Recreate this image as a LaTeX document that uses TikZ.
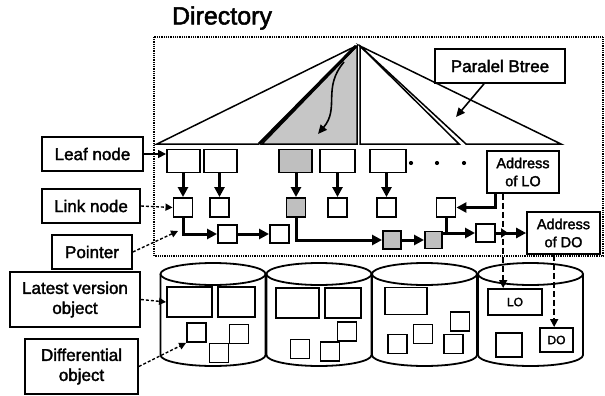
\documentclass[tikz,border=0pt]{standalone}
\usepackage{fontspec}
\setmainfont{Liberation Sans}[BoldFont=Liberation Sans, BoldFeatures={FakeBold=2}]
\usetikzlibrary{arrows.meta,calc}
\begin{document}
\begin{tikzpicture}[x=1pt,y=-1pt,
  lbl/.style={draw, line width=1.7pt, fill=white, inner sep=0pt, align=center, font=\fontsize{17}{20}\selectfont\bfseries},
  addr/.style={draw, line width=1.7pt, fill=white, inner sep=0pt, align=center, font=\fontsize{14.5}{18}\selectfont\bfseries},
  cell/.style={draw, line width=1.9pt, fill=white, inner sep=0pt},
  shd/.style={fill=gray!50},
  tarrow/.style={line width=3pt, -{Triangle[length=10pt,width=10pt]}},
  larrow/.style={line width=1.4pt, densely dashed, -{Triangle[length=7pt,width=7pt]}},
  darrow/.style={line width=1.6pt, dash pattern=on 6pt off 3pt, -{Triangle[length=8pt,width=8pt]}},
  treeline/.style={line width=1.5pt},
  cyl/.style={line width=1.8pt, fill=white},
  dotnode/.style={circle, fill, inner sep=0pt, minimum size=4.2pt}
]
\useasboundingbox (0,0) rectangle (605,396);

% title and frame
\node[font=\fontsize{25}{28}\selectfont\bfseries, inner sep=0pt] (dir) at (222,18) {Directory};
\draw[line width=2pt, dash pattern=on 1pt off 0.8pt] (154,37) rectangle (603,256);

% tree
\coordinate (apexL) at (356,46);
\coordinate (apexM) at (357,46);
\coordinate (apexR) at (360,46);
\fill[gray!45] (apexM) -- (262,144) -- (357,144) -- cycle;
\draw[treeline] (apexL) -- (157,144) -- (259,144);
\draw[line width=3pt] (apexL) -- (259,144);
\draw[treeline] (apexM) -- (262,144) -- (357,144) -- cycle;
\draw[treeline] (apexR) -- (360,144) -- (459,144) -- cycle;
\draw[treeline] (apexR) -- (466,144) -- (561,144) -- cycle;
\draw[line width=1.6pt, -{Triangle[length=9pt,width=8pt]}] (344,62) .. controls (322,88) and (340,108) .. (318,134);

\node[lbl, minimum width=130pt, minimum height=34pt] (parb) at (500,66) {Paralel Btree};
\coordinate (btgt) at (456,117);
\draw[line width=1.6pt, -{Triangle[length=9pt,width=8pt]}] ($(parb.south)+(-16,0)$) -- (btgt);

% leaf nodes
\node[cell, minimum width=33pt, minimum height=23pt] (lb1) at (183.5,161) {};
\node[cell, minimum width=33pt, minimum height=23pt] (lb2) at (220.5,161) {};
\node[cell, shd, minimum width=33pt, minimum height=23pt] (lb3) at (295.5,161) {};
\node[cell, minimum width=35pt, minimum height=23pt] (lb4) at (337.5,161) {};
\node[cell, minimum width=36pt, minimum height=23pt] (lb5) at (388,161) {};
\node[dotnode] (dt1) at (411,163) {};
\node[dotnode] (dt2) at (437,163) {};
\node[dotnode] (dt3) at (464,163) {};

% link nodes
\node[cell, minimum size=19pt] (l1) at (183,207.5) {};
\node[cell, minimum size=19pt] (l2) at (219.5,207.5) {};
\node[cell, shd, minimum size=19pt] (l3) at (296,207.5) {};
\node[cell, minimum size=19pt] (l4) at (337.5,207.5) {};
\node[cell, minimum size=19pt] (l5) at (386.5,207.5) {};
\node[cell, minimum size=19pt] (l6) at (446,207.5) {};

% pointer chain boxes
\node[cell, minimum width=19pt, minimum height=18pt] (p1) at (227.5,234) {};
\node[cell, minimum width=19pt, minimum height=18pt] (p2) at (279.5,234) {};
\node[cell, shd, minimum size=18pt] (s1) at (392,240) {};
\node[cell, shd, minimum size=17pt] (s2) at (433.5,240) {};
\node[cell, minimum width=19pt, minimum height=18pt] (p3) at (485.5,233) {};

\node[addr, minimum width=72pt, minimum height=42pt] (alo) at (523,172) {Address\\of LO};
\node[addr, minimum width=73pt, minimum height=42pt] (ado) at (563.5,233) {Address\\of DO};

\foreach \i in {1,...,5} \draw[tarrow] (l\i.north |- lb\i.south) -- (l\i.north);
\draw[tarrow] (l1.south) |- (p1.west);
\draw[tarrow] (p1.east) -- (p2.west);
\draw[tarrow] (l3.south) |- (s1.west);
\draw[tarrow] (s1.east) -- (s2.west);
\draw[tarrow] (s2.east |- p3.west) -- (p3.west);
\draw[line width=3pt] (l6.south) -- (l6.south |- p3.west);
\draw[tarrow] ($(alo.south west)+(9,0)$) |- (l6.east);
\draw[line width=3pt, -{Triangle[length=7pt,width=9pt,sep=8pt] Triangle[length=10pt,width=10pt]}] (p3.east) -- (ado.west);

% labels on the left
\node[lbl, minimum width=101pt, minimum height=34pt] (leafl) at (92.5,154) {Leaf node};
\node[lbl, minimum width=98pt, minimum height=34pt] (linkl) at (91,206) {Link node};
\node[lbl, minimum width=80pt, minimum height=34pt] (ptrl) at (92,252) {Pointer};
\node[lbl, minimum width=130pt, minimum height=55pt] (latl) at (75,299.5) {Latest version\\object};
\node[lbl, minimum width=113pt, minimum height=55pt] (difl) at (81.5,366.5) {Differential\\object};

\draw[line width=1.6pt, -{Triangle[length=8pt,width=8pt]}] (leafl.east) -- (lb1.west |- leafl.east);
\draw[larrow] (linkl.east) -- (l1.west);
\coordinate (ptip) at (178,231);
\draw[larrow] (ptrl.east) -- (ptip);

% cylinders
\foreach \cx in {213,319,424.5,530.5} {
  \draw[cyl] (\cx-52.5,274) -- (\cx-52.5,355) arc[start angle=180, end angle=0, x radius=52.5, y radius=11] -- (\cx+52.5,274);
  \draw[cyl] (\cx,274) ellipse [x radius=52.5, y radius=11];
}

% cylinder 1
\node[cell, minimum width=45pt, minimum height=30pt] (bA) at (189.5,302) {};
\node[cell, minimum width=37pt, minimum height=30pt] (bB) at (236.5,302) {};
\node[cell, minimum size=19pt] (sA) at (196.5,332.5) {};
\node[cell, minimum size=19pt] (sB) at (239,334) {};
\node[cell, minimum size=19pt] (sC) at (219,353) {};
% cylinder 2
\node[cell, minimum width=43pt, minimum height=30pt] (bC) at (297.5,303) {};
\node[cell, minimum width=36pt, minimum height=30pt] (bD) at (343,303) {};
\node[cell, minimum size=19pt] (sD) at (300,349) {};
\node[cell, minimum size=19pt] (sE) at (330,351.5) {};
\node[cell, minimum size=19pt] (sF) at (347,331.5) {};
% cylinder 3
\node[cell, minimum width=42pt, minimum height=27pt] (bE) at (406,301) {};
\node[cell, minimum size=19pt] (sG) at (460,321.5) {};
\node[cell, minimum size=19pt] (sH) at (423,334) {};
\node[cell, minimum size=19pt] (sI) at (397.5,344) {};
\node[cell, minimum size=19pt] (sJ) at (453.5,344) {};
% cylinder 4
\node[cell, minimum width=54pt, minimum height=26pt, font=\fontsize{12}{14}\selectfont\bfseries] (lo) at (515,302) {LO};
\node[cell, minimum width=26pt, minimum height=24pt] (sK) at (509,345) {};
\node[cell, minimum width=33pt, minimum height=24pt, font=\fontsize{12}{14}\selectfont\bfseries] (do) at (556.5,340) {DO};

\draw[larrow] (latl.east) -- (bA.west);
\draw[larrow] (difl.east) -- (sA.south west);

% dashed address arrows
\coordinate (d1) at ($(alo.south west)+(17,0)$);
\draw[darrow] (d1) -- (d1 |- lo.north);
\coordinate (d2) at ($(ado.south west)+(28,0)$);
\draw[darrow] (d2) -- (d2 |- do.north);
\end{tikzpicture}
\end{document}
